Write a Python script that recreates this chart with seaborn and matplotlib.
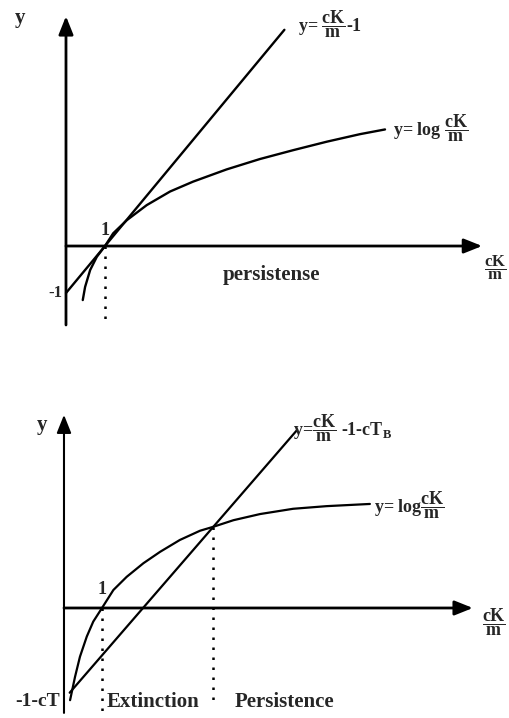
import matplotlib
matplotlib.use("Agg")
import matplotlib.pyplot as plt
import seaborn as sns
import pandas as pd

# ---- data (x = cK/m) ----
# upper panel: tangent line y = cK/m - 1 and y = log cK/m
top_line_x = [0.0, 5.6]
top_line_y = [-1.0, 4.6]
top_log_x = [0.43, 0.49, 0.62, 0.79, 1.0, 1.21, 1.56, 2.07, 2.67, 3.26,
             4.12, 4.97, 5.83, 6.69, 7.54, 8.18]
top_log_y = [-1.15, -0.87, -0.51, -0.23, 0.0, 0.27, 0.55, 0.87, 1.16, 1.37,
             1.63, 1.85, 2.04, 2.22, 2.38, 2.48]

# lower panel: shifted line y = cK/m - 1 - cT_B and y = log cK/m
bot_line_x = [0.15, 6.13]
bot_line_y = [-1.93, 4.05]
bot_log_x = [0.16, 0.29, 0.42, 0.60, 0.77, 1.0, 1.30, 1.65, 2.09, 2.53,
             3.05, 3.58, 3.93, 4.46, 5.16, 6.03, 6.91, 8.05]
bot_log_y = [-2.10, -1.57, -1.11, -0.65, -0.31, 0.0, 0.41, 0.71, 1.02, 1.28,
             1.55, 1.76, 1.85, 2.00, 2.14, 2.26, 2.32, 2.37]
threshold_x = 3.93
threshold_y = 1.85

FRAC = "$\\dfrac{\\mathrm{cK}}{\\mathrm{m}}$"
top_labels = {"line": "y= " + FRAC + "-1",
              "log": "y= log " + FRAC,
              "region": "persistense"}
bot_labels = {"line": "y=" + FRAC + " -1-cT$_\\mathrm{B}$",
              "log": "y= log" + FRAC,
              "left": "Extinction", "right": "Persistence",
              "intercept": "-1-cT"}
xaxis_label = FRAC

sns.set_theme(style="white")
plt.rcParams["font.family"] = ["Liberation Serif", "DejaVu Serif"]
plt.rcParams["font.weight"] = "bold"
plt.rcParams["mathtext.fontset"] = "custom"
plt.rcParams["mathtext.rm"] = "Liberation Serif:bold"
plt.rcParams["mathtext.it"] = "Liberation Serif:bold"
plt.rcParams["mathtext.bf"] = "Liberation Serif:bold"

W, H = 509, 718
fig = plt.figure(figsize=(W / 100, H / 100), dpi=100)
fig.patch.set_facecolor("white")

ax1 = fig.add_axes([0, 1 - 345 / H, 1, 345 / H])
ax2 = fig.add_axes([0, 0, 1, 373 / H])
ax1.set_xlim(-1.692, 11.359)
ax1.set_ylim(-2.106, 5.234)
ax2.set_xlim(-1.684, 11.711)
ax2.set_ylim(-2.506, 5.991)
for ax in (ax1, ax2):
    ax.set_axis_off()

FS = 15
LFS = 13
dots = (0, (1, 3))


def axis_arrow(ax, start, end, lw):
    ax.annotate("", xy=end, xytext=start,
                arrowprops=dict(arrowstyle="-|>,head_length=0.55,head_width=0.22",
                                lw=lw, color="black", mutation_scale=20,
                                shrinkA=0, shrinkB=0))


# ---- upper panel ----
df_top = pd.DataFrame({"x": top_log_x, "y": top_log_y})
sns.lineplot(data=df_top, x="x", y="y", ax=ax1, color="black", lw=1.7,
             sort=False, estimator=None)
sns.lineplot(x=top_line_x, y=top_line_y, ax=ax1, color="black", lw=1.7,
             sort=False, estimator=None)
axis_arrow(ax1, (0, -1.68), (0, 4.89), 2.0)
axis_arrow(ax1, (0, 0), (10.67, 0), 2.0)
ax1.plot([1, 1], [0, -1.68], color="black", lw=1.8, ls=dots)

ax1.text(-1.18, 4.85, "y", fontsize=FS, ha="center", va="center")
ax1.text(5.95, 4.72, top_labels["line"], fontsize=LFS, ha="left", va="center")
ax1.text(8.38, 2.51, top_labels["log"], fontsize=LFS, ha="left", va="center")
ax1.text(1.0, 0.34, "1", fontsize=13, ha="center", va="center")
ax1.text(-0.08, -1.0, "-1", fontsize=12, ha="right", va="center")
ax1.text(5.28, -0.62, top_labels["region"], fontsize=FS, ha="center", va="center")
ax1.text(10.72, -0.47, xaxis_label, fontsize=12, ha="left", va="center")

# ---- lower panel ----
df_bot = pd.DataFrame({"x": bot_log_x, "y": bot_log_y})
sns.lineplot(data=df_bot, x="x", y="y", ax=ax2, color="black", lw=1.6,
             sort=False, estimator=None)
sns.lineplot(x=bot_line_x, y=bot_line_y, ax=ax2, color="black", lw=1.6,
             sort=False, estimator=None)
axis_arrow(ax2, (0, -2.39), (0, 4.40), 1.5)
axis_arrow(ax2, (0, 0), (10.76, 0), 2.0)
ax2.plot([1, 1], [0, -2.5], color="black", lw=1.8, ls=dots)
ax2.plot([threshold_x, threshold_x], [threshold_y, -2.21], color="black",
         lw=1.8, ls=dots)

ax2.text(-0.58, 4.17, "y", fontsize=FS, ha="center", va="center")
ax2.text(6.02, 4.10, bot_labels["line"], fontsize=LFS, ha="left", va="center")
ax2.text(8.16, 2.35, bot_labels["log"], fontsize=LFS, ha="left", va="center")
ax2.text(1.0, 0.41, "1", fontsize=13, ha="center", va="center")
ax2.text(-0.1, -2.14, bot_labels["intercept"], fontsize=14, ha="right", va="center")
ax2.text(1.13, -2.14, bot_labels["left"], fontsize=FS, ha="left", va="center")
ax2.text(4.5, -2.14, bot_labels["right"], fontsize=FS, ha="left", va="center")
ax2.text(11.0, -0.32, xaxis_label, fontsize=13, ha="left", va="center")

fig.savefig("out.png", dpi=100, facecolor="white")
